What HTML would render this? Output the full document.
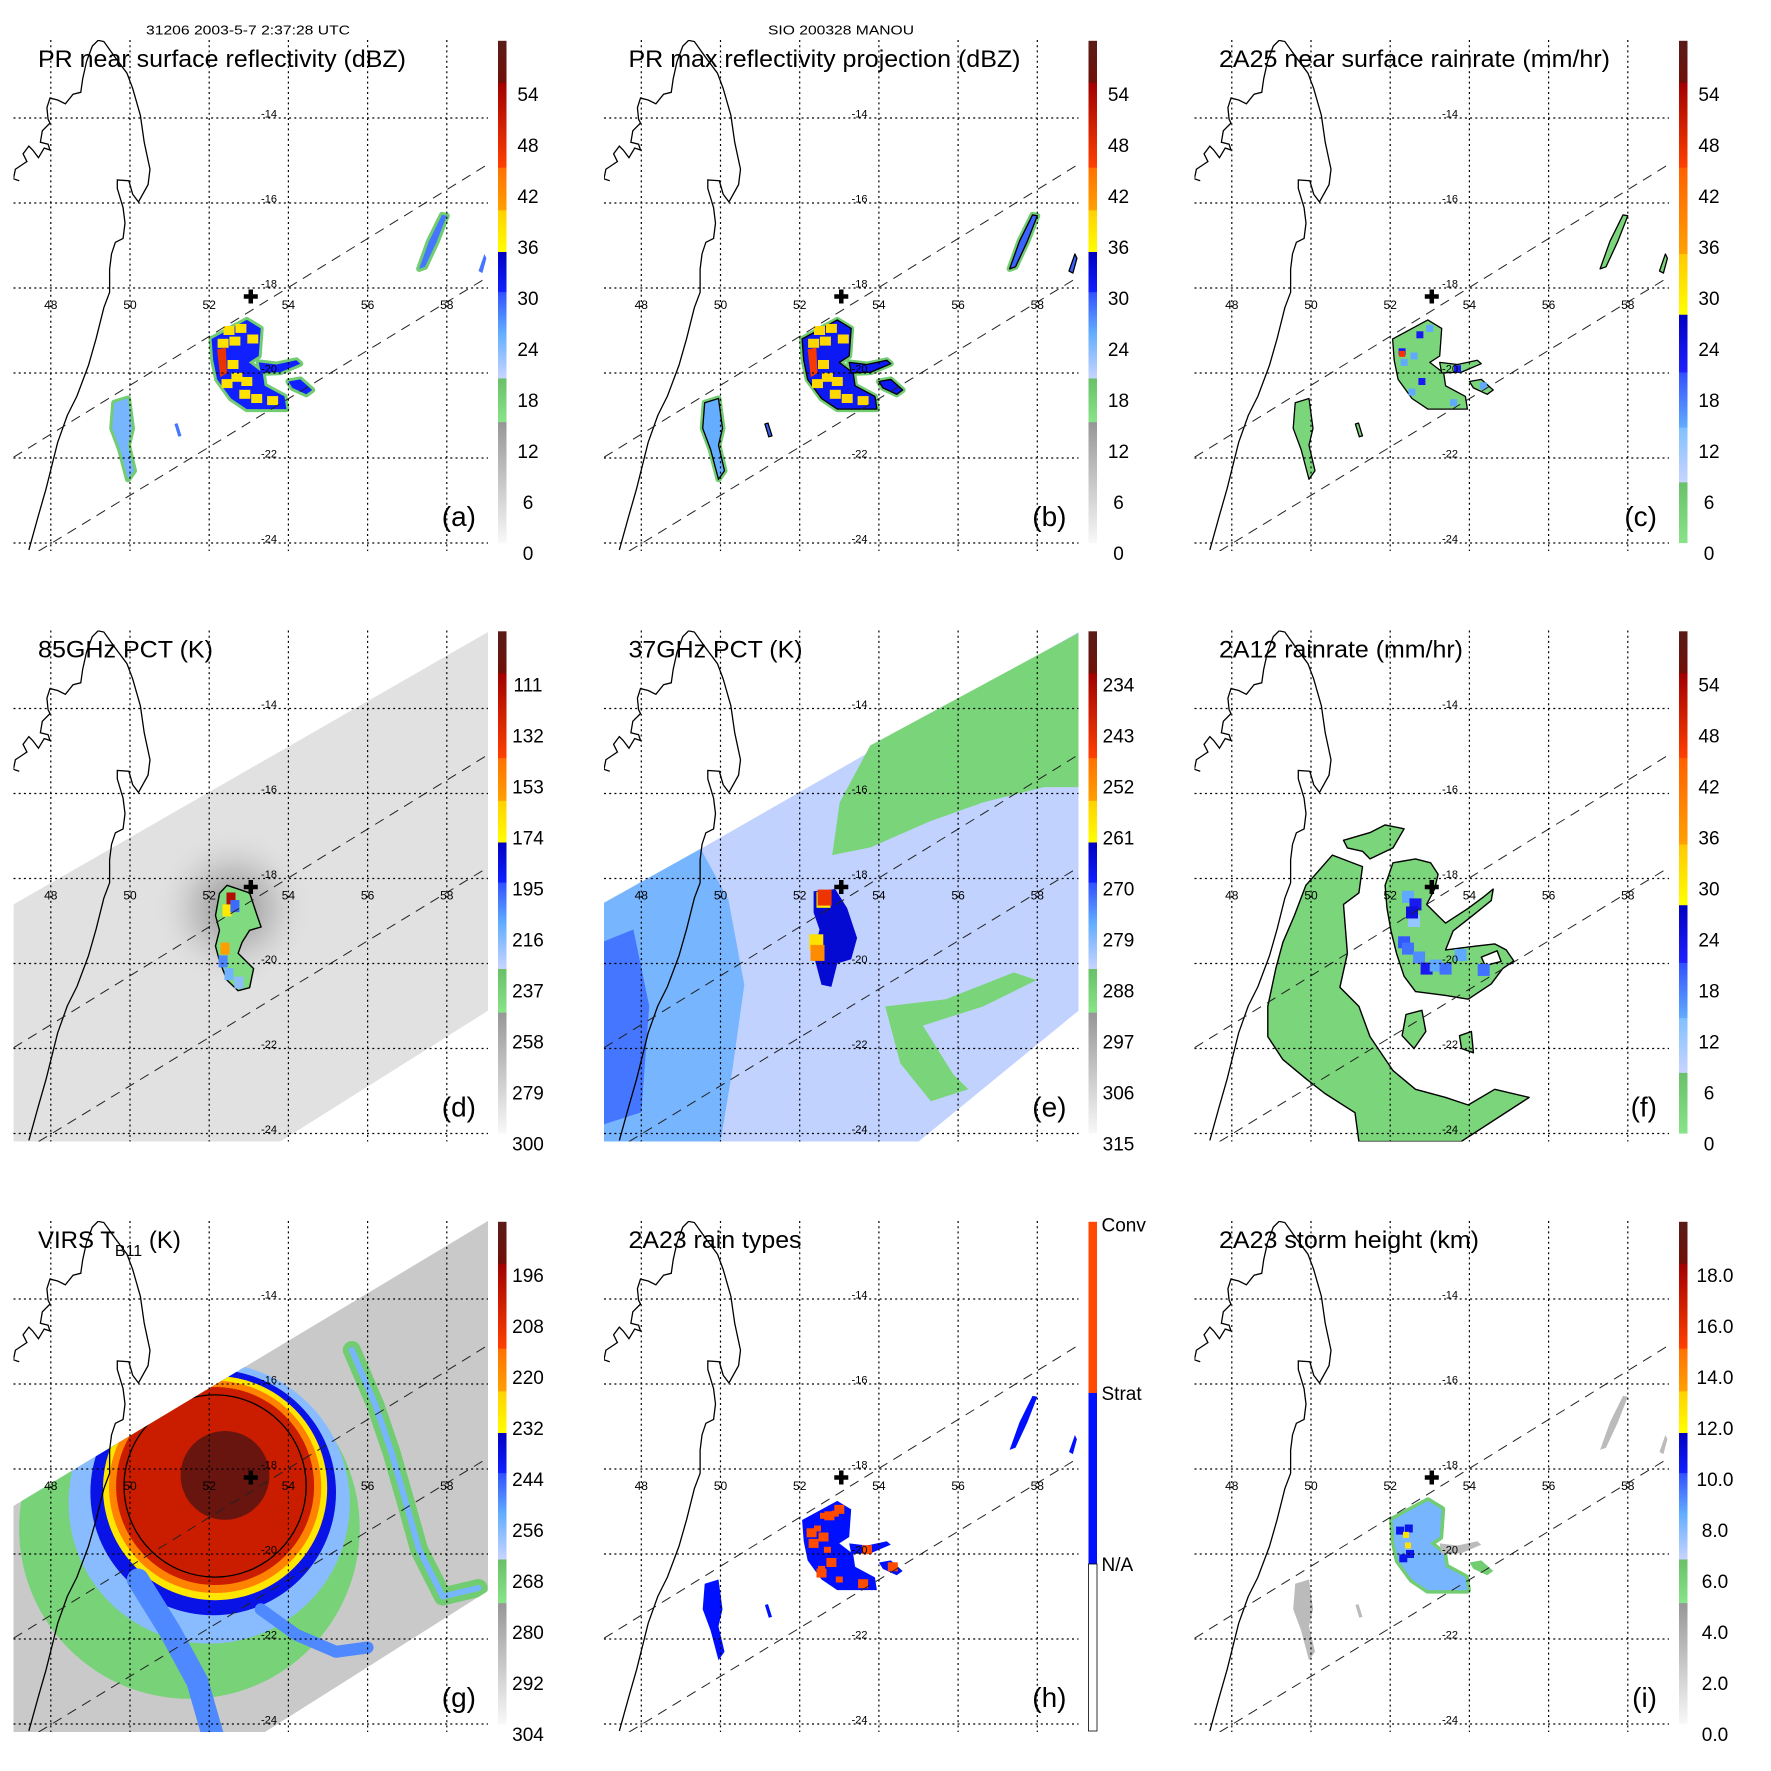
<!DOCTYPE html>
<html><head><meta charset="utf-8"><title>MANOU TRMM panels</title>
<style>
html,body{margin:0;padding:0;background:#fff;}
svg{display:block;font-family:"Liberation Sans",sans-serif;pointer-events:none;}
</style></head><body>
<svg id="fig" width="1771" height="1771" viewBox="0 0 1771 1771" xmlns="http://www.w3.org/2000/svg">
<defs>
<clipPath id="mapclip" clipPathUnits="userSpaceOnUse"><rect x="13.5" y="40" width="474.5" height="511"/></clipPath>
<radialGradient id="halo"><stop offset="0" stop-color="#7a7a7a" stop-opacity="0.85"/><stop offset="0.5" stop-color="#a8a8a8" stop-opacity="0.5"/><stop offset="1" stop-color="#e0e0e0" stop-opacity="0"/></radialGradient>
</defs>
<rect x="0" y="0" width="1771" height="1771" fill="#fff"/>
<text x="248" y="34.5" font-size="13" text-anchor="middle" textLength="204" lengthAdjust="spacingAndGlyphs">31206 2003-5-7 2:37:28 UTC</text>
<text x="841" y="34.5" font-size="13" text-anchor="middle" textLength="146" lengthAdjust="spacingAndGlyphs">SIO 200328 MANOU</text>
</svg>
<script>
// ---------- data ----------
const panelLetters=['a','b','c','d','e','f','g','h','i'];
const panelTitles=['PR near surface reflectivity (dBZ)','PR max reflectivity projection (dBZ)','2A25 near surface rainrate (mm/hr)','85GHz PCT (K)','37GHz PCT (K)','2A12 rainrate (mm/hr)','VIRS T','2A23 rain types','2A23 storm height (km)'];
const titleWidths=[368,392,391,175,174,244,0,173,260];
const lonTicks=[48,50,52,54,56,58];
const latTicks=[-14,-16,-18,-20,-22,-24];
const cbLabelsPR=['54','48','42','36','30','24','18','12','6','0'];
const cbLabels85=['111','132','153','174','195','216','237','258','279','300'];
const cbLabels37=['234','243','252','261','270','279','288','297','306','315'];
const cbLabelsVIRS=['196','208','220','232','244','256','268','280','292','304'];
const cbLabelsHt=['18.0','16.0','14.0','12.0','10.0','8.0','6.0','4.0','2.0','0.0'];
const cbLabelsType=['Conv','Strat','N/A'];
const crossLon=53.05, crossLat=-18.2;
const prSwathUpper=[[47.06,-21.98],[59.0,-15.11]];
const prSwathLower=[[47.69,-24.19],[59.04,-17.74]];
const prStorm=[[52.06,-19.2],[52.95,-18.75],[53.3,-18.95],[53.25,-19.6],[53.0,-19.75],[53.35,-20.0],[53.4,-20.3],[53.9,-20.55],[53.95,-20.85],[53.5,-20.85],[52.95,-20.85],[52.55,-20.6],[52.2,-20.15],[52.1,-19.7]];
const prArm1=[[53.25,-19.75],[53.7,-19.8],[54.2,-19.7],[54.3,-19.78],[53.8,-19.98],[53.3,-20.0]];
const prArm2=[[54.0,-20.2],[54.3,-20.15],[54.6,-20.4],[54.45,-20.5],[54.1,-20.35]];
const prLeft=[[49.6,-20.7],[49.95,-20.6],[50.05,-21.3],[49.95,-21.7],[50.1,-22.3],[49.95,-22.5],[49.75,-21.8],[49.55,-21.3]];
const prStreak=[[51.12,-21.2],[51.2,-21.18],[51.3,-21.48],[51.22,-21.5]];
const prNE=[[57.3,-17.55],[57.45,-17.5],[57.75,-16.9],[58.0,-16.3],[57.88,-16.28],[57.55,-16.9]];
const prNE2=[[58.8,-17.6],[58.95,-17.2],[59.0,-17.3],[58.9,-17.65]];
const prRedStreak=[[52.2,-19.45],[52.42,-19.4],[52.45,-20.0],[52.28,-20.1]];
const prYellowCells=[[52.5,-19.0],[52.8,-18.95],[52.35,-19.3],[52.6,-19.8],[52.9,-20.5],[52.45,-20.25],[53.2,-20.6],[52.7,-20.1],[53.1,-19.2],[52.65,-19.25],[52.95,-20.2],[53.6,-20.65]];
const prConvCells=[[52.3,-19.5],[52.35,-19.75],[52.6,-19.6],[52.8,-20.2],[52.55,-20.45],[53.0,-18.95],[53.7,-19.9],[54.35,-20.3],[53.6,-20.7],[52.75,-19.1]];
const prValuesA=[30,18,24,28,38,47];
const prValuesB=[31,18,25,29,39,46];
const prValuesC=[3,14,22];
const prValuesI=[8,6,3,10.5,12.6];
const pmSwath85=[[47.06,-18.61],[59.04,-12.2],[59.04,-21.11],[53.79,-24.19],[47.06,-24.19]];
const pmSwath37=[[47.06,-18.61],[59.04,-12.2],[59.04,-21.11],[55.0,-24.19],[47.06,-24.19]];
const stormD=[[52.45,-18.16],[53.02,-18.34],[53.21,-18.87],[53.31,-19.14],[53.02,-19.22],[52.83,-19.5],[52.73,-19.76],[53.12,-20.12],[53.02,-20.57],[52.73,-20.64],[52.45,-20.39],[52.26,-19.94],[52.16,-19.59],[52.26,-19.22],[52.16,-18.87],[52.26,-18.35]];
const dCellsLon=[52.55,52.45,52.4,52.35,52.5,52.65,52.75];
const dCellsLat=[-18.47,-18.75,-19.65,-19.95,-20.25,-18.65,-20.45];
const dCellsVal=[115,170,160,205,215,200,220];
const dValues=[288,245];
const eGreenNorth=[[53.78,-14.87],[53.01,-16.21],[52.82,-17.45],[53.78,-17.27],[55.3,-16.65],[56.64,-16.21],[58.17,-15.85],[59.09,-15.85],[59.09,-12.2]];
const eGreenSouth=[[54.16,-21.01],[55.69,-20.84],[57.41,-20.21],[57.98,-20.39],[56.64,-21.01],[55.11,-21.46],[55.88,-22.61],[56.26,-22.96],[55.31,-23.24],[54.54,-22.35]];
const eLeft=[[47.0,-18.6],[49.5,-17.3],[50.2,-18.5],[50.6,-20.5],[50.3,-22.5],[50.0,-24.2],[47.0,-24.2]];
const eLeftDark=[[47.0,-19.5],[47.8,-19.2],[48.2,-21.0],[48.0,-23.5],[47.0,-23.8]];
const eStorm=[[52.35,-18.3],[52.9,-18.25],[53.2,-18.7],[53.45,-19.4],[53.3,-19.9],[52.95,-20.0],[52.8,-20.55],[52.55,-20.5],[52.35,-19.8],[52.5,-19.2],[52.35,-18.8]];
const eSpotsLon=[52.6,52.63,52.42,52.45];
const eSpotsLat=[-18.5,-18.45,-19.5,-19.75];
const eSpotsVal=[260,245,258,252];
const eValues=[285,279,273,290,265];
const fWest=[[50.54,-17.45],[51.3,-17.72],[51.21,-18.34],[50.82,-18.61],[50.92,-19.76],[50.73,-20.56],[51.21,-21.01],[51.49,-21.72],[52.07,-22.52],[52.64,-22.96],[53.4,-23.15],[53.97,-23.33],[54.64,-22.96],[55.51,-23.15],[53.79,-24.19],[51.21,-24.19],[51.11,-23.51],[50.35,-23.06],[49.87,-22.71],[49.29,-22.26],[48.91,-21.72],[48.91,-21.01],[49.11,-20.12],[49.29,-19.5],[49.58,-18.87],[49.87,-18.16]];
const fStorm=[[52.07,-17.63],[52.64,-17.54],[53.02,-17.63],[53.21,-17.9],[53.12,-18.25],[52.92,-18.61],[53.21,-18.88],[53.4,-19.05],[53.97,-18.7],[54.36,-18.43],[54.6,-18.25],[54.55,-18.52],[54.07,-18.88],[53.59,-19.23],[53.4,-19.68],[54.17,-19.59],[54.64,-19.54],[54.93,-19.68],[55.12,-19.94],[54.84,-20.12],[54.55,-20.48],[53.97,-20.84],[53.4,-20.75],[52.64,-20.66],[52.35,-20.3],[52.16,-19.76],[52.02,-19.23],[51.92,-18.7],[51.87,-18.16]];
const fNorth=[[50.82,-17.1],[51.49,-16.92],[51.87,-16.74],[52.35,-16.83],[52.07,-17.28],[51.49,-17.54],[51.3,-17.36],[50.92,-17.28]];
const fSmall1=[[52.4,-21.2],[52.8,-21.1],[52.9,-21.6],[52.6,-22.0],[52.3,-21.7]];
const fSmall2=[[53.75,-21.7],[54.05,-21.6],[54.1,-22.1],[53.8,-22.0]];
const fHoles=[[54.3,-19.85],[54.7,-19.7],[54.8,-19.95],[54.4,-20.05]];
const fCellsLon=[52.45,52.64,52.35,52.45,52.73,52.92,53.15,53.4,54.36,53.78,52.6,52.55];
const fCellsLat=[-18.43,-18.61,-19.5,-19.65,-19.86,-20.12,-20.05,-20.12,-20.15,-19.8,-19.0,-18.8];
const fCellsVal=[14,22,20,18,16,22,14,18,18,14,12,24];
const fValues=[3];
const gSwath=[[47.05,-18.87],[59.04,-12.16],[59.04,-20.87],[53.41,-24.19],[47.05,-24.19]];
const gRingLon=[51.5,52.0,52.1,52.15,52.15,52.15];
const gRingLat=[-19.4,-18.8,-18.55,-18.45,-18.42,-18.4];
const gRingR=[4.3,3.55,3.1,2.83,2.68,2.5];
const gRingVal=[270,258,240,229,218,203];
const gCore=[52.4,-18.15,1.12,190];
const gContourR=2.3;
const gEastBand=[[55.6,-15.2],[56.2,-16.5],[56.6,-17.6],[57.0,-18.9],[57.3,-19.9],[57.9,-21.0],[58.8,-20.8]];
const gSouthBand=[[50.2,-20.6],[51.0,-21.8],[51.7,-23.0],[52.1,-24.3]];
const gSEBand=[[53.3,-21.3],[54.2,-21.9],[55.2,-22.3],[56.0,-22.2]];
const gValues=[290,290,268,256,250];
const hColors=['#ff4a00','#0010ff'];
// ---------- projection & helpers ----------
const LON0=48, X0=50.8, DXDEG=39.6, LAT0=-14, Y0=118, DYDEG=42.5;
const NS='http://www.w3.org/2000/svg';
const svg=document.getElementById('fig');
function px(lon){return X0+(lon-LON0)*DXDEG;}
function py(lat){return Y0+(LAT0-lat)*DYDEG;}
function pts(a){return a.map(p=>px(p[0]).toFixed(1)+','+py(p[1]).toFixed(1)).join(' ');}
function mk(tag,parent){const e=document.createElementNS(NS,tag);parent.appendChild(e);return e;}
function set(e,o){for(const k in o)e.setAttribute(k,o[k]);return e;}
function hex2(h){return [parseInt(h.substr(1,2),16),parseInt(h.substr(3,2),16),parseInt(h.substr(5,2),16)];}
function mix(a,b,t){const A=hex2(a),B=hex2(b);return 'rgb('+A.map((v,i)=>Math.round(v+(B[i]-v)*t)).join(',')+')';}
const schemeStd=[[0,0.241,'#f8f8f8','#969696'],[0.241,0.328,'#88e488','#68c068'],[0.328,0.42,'#c8d4ff','#60acff'],[0.42,0.5,'#60acff','#3050ff'],[0.5,0.58,'#1020ff','#0000c0'],[0.58,0.663,'#ffff00','#ffd000'],[0.663,0.748,'#ffa000','#ff7000'],[0.748,0.917,'#ff4000','#a00000'],[0.917,1,'#701008','#5a1c18']];
const schemeRain=[[0,0.121,'#88e488','#68c068'],[0.121,0.23,'#c8d4ff','#80c0ff'],[0.23,0.34,'#60acff','#3050ff'],[0.34,0.455,'#2020ff','#0000c0'],[0.455,0.576,'#ffff00','#ffc800'],[0.576,0.748,'#ffa000','#ff6000'],[0.748,0.917,'#ff4000','#a00000'],[0.917,1,'#701008','#5a1c18']];
function colorAt(s,f){f=Math.max(0,Math.min(0.9999,f));for(const b of s){if(f>=b[0]&&f<b[1])return mix(b[2],b[3],(f-b[0])/(b[1]-b[0]));}return s[s.length-1][3];}
const fracFns=[v=>v/60,v=>v/60,v=>v/60,v=>(300-v)/210,v=>(315-v)/90,v=>v/60,v=>(304-v)/120,v=>0,v=>v/20];
const schemes=[schemeStd,schemeStd,schemeRain,schemeStd,schemeStd,schemeRain,schemeStd,null,schemeStd];
let P=0;
function col(v){return colorAt(schemes[P],fracFns[P](v));}
function poly(parent,arr,fill,stroke,sw,name){const e=mk('polygon',parent);set(e,{points:pts(arr),fill:fill,stroke:stroke||'none','stroke-width':sw||0,'stroke-linejoin':'round'});

return e;}
function cell(parent,lon,lat,w,h,fill,name){const e=mk('rect',parent);set(e,{x:(px(lon)-w/2).toFixed(1),y:(py(lat)-h/2).toFixed(1),width:w,height:h,fill:fill});

return e;}
function line(parent,arr,stroke,sw,name){const e=mk('polyline',parent);set(e,{points:pts(arr),fill:'none',stroke:stroke,'stroke-width':sw,'stroke-linecap':'round','stroke-linejoin':'round'});

return e;}
function circ(parent,lon,lat,r,fill,stroke,name){const e=mk('circle',parent);set(e,{cx:px(lon).toFixed(1),cy:py(lat).toFixed(1),r:(r*DXDEG).toFixed(1),fill:fill,stroke:stroke||'none','stroke-width':1.3});

return e;}

function drawPR(g,vals,outline){
  const st=outline?'#000':'none', sw=outline?1.3:0;
  [prStorm,prArm1,prArm2,prLeft,prNE].forEach(a=>{poly(g,a,'none',col(vals[1]),6,'rain-fringe');});
  poly(g,prStorm,col(vals[0]),st,sw,'storm-echo');
  poly(g,prArm1,col(vals[0]),st,sw,'rainband-arm');
  poly(g,prArm2,col(vals[0]),st,sw,'rainband-arm');
  poly(g,prLeft,col(vals[2]),st,sw,'coastal-echo');
  poly(g,prStreak,col(vals[3]),st,sw,'small-echo');
  poly(g,prNE,col(vals[3]),st,sw,'northeast-echo');
  poly(g,prNE2,col(vals[3]),st,sw,'northeast-echo');
  prYellowCells.forEach(c=>cell(g,c[0],c[1],11,9,col(vals[4]),'high-echo-cell'));
  poly(g,prRedStreak,col(vals[5]),'none',0,'core-echo');
}
function drawC(g){
  const v=prValuesC;
  [prStorm,prArm1,prArm2,prLeft,prStreak,prNE,prNE2].forEach(a=>poly(g,a,col(v[0]),'#000',1.3,'rain-area'));
  prConvCells.forEach((c,i)=>cell(g,c[0],c[1],7,7,col(i%3?v[1]:v[2]),'rain-cell'));
  cell(g,52.3,-19.55,6,6,'#ff3000','heavy-rain-cell');
}
function drawH(g){
  [prStorm,prArm1,prArm2,prLeft,prStreak,prNE,prNE2].forEach(a=>poly(g,a,hColors[1],'none',0,'stratiform-area'));
  prConvCells.forEach(c=>cell(g,c[0],c[1],10,9,hColors[0],'convective-cell'));
  prYellowCells.slice(0,6).forEach(c=>cell(g,c[0]+0.1,c[1]-0.1,7,6,hColors[0],'convective-cell'));
}
function drawI(g){
  const v=prValuesI;
  poly(g,prStorm,'none',col(v[1]),7,'rain-fringe');
  poly(g,prStorm,col(v[0]),'none',0,'storm-height-area');
  poly(g,prArm1,col(v[2]),'none',0,'rainband-arm');
  poly(g,prArm2,col(v[1]),'none',0,'rainband-arm');
  poly(g,prLeft,col(v[2]),'none',0,'coastal-echo');
  poly(g,prStreak,col(v[2]),'none',0,'small-echo');
  poly(g,prNE,col(v[2]),'none',0,'northeast-echo');
  poly(g,prNE2,col(v[2]),'none',0,'northeast-echo');
  prRedStreak.forEach(c=>cell(g,c[0]+0.05,c[1],8,8,col(v[3]),'tall-cell'));
  cell(g,52.4,-19.55,6,6,col(v[4]),'tallest-cell');
  cell(g,52.45,-19.8,6,6,col(v[4]),'tallest-cell');
}
function drawD(g){
  poly(g,pmSwath85,col(dValues[0]),'none',0,'pmi-swath');
  const h=mk('circle',g);set(h,{cx:px(52.6).toFixed(1),cy:py(-18.7).toFixed(1),r:80,fill:'url(#halo)'});
  
  
  poly(g,stormD,col(dValues[1]),'#000',1.4,'ice-scattering-area');
  dCellsLon.forEach((lon,i)=>cell(g,lon,dCellsLat[i],9,12,col(dCellsVal[i]),'low-pct-cell'));
}
function drawE(g){
  poly(g,pmSwath37,col(eValues[0]),'none',0,'pmi-swath');
  poly(g,eLeft,col(eValues[1]),'none',0,'warm-land-region');
  poly(g,eLeftDark,col(eValues[2]),'none',0,'land-region');
  poly(g,eGreenNorth,col(eValues[3]),'none',0,'ocean-cold-region');
  poly(g,eGreenSouth,col(eValues[3]),'none',0,'ocean-cold-band');
  poly(g,eStorm,col(eValues[4]),'none',0,'emission-area');
  eSpotsLon.forEach((lon,i)=>cell(g,lon,eSpotsLat[i],14,16,col(eSpotsVal[i]),'scattering-cell'));
}
function drawF(g){
  const v=fValues[0];
  poly(g,fWest,col(v),'#000',1.4,'west-rain-area');
  poly(g,fStorm,col(v),'#000',1.4,'storm-rain-area');
  poly(g,fNorth,col(v),'#000',1.4,'north-rain-area');
  poly(g,fSmall1,col(v),'#000',1.4,'small-rain-area');
  poly(g,fSmall2,col(v),'#000',1.4,'small-rain-area');
  poly(g,fHoles,'#fff','#000',1.4,'rain-gap');
  fCellsLon.forEach((lon,i)=>cell(g,lon,fCellsLat[i],12,12,col(fCellsVal[i]),'rain-cell'));
}
function drawG(g){
  const cp=mk('clipPath',svg.querySelector('defs'));set(cp,{id:'swclip-g',clipPathUnits:'userSpaceOnUse'});
  const cpp=mk('polygon',cp);set(cpp,{points:pts(gSwath)});
  const gg=mk('g',g);gg.setAttribute('clip-path','url(#swclip-g)');
  
  
  poly(gg,gSwath,col(gValues[0]),'none',0,'virs-swath');
  line(gg,gEastBand,col(gValues[2]),18,'outer-rainband');
  line(gg,gEastBand,col(gValues[3]),6,'outer-rainband-core');
  gRingLon.forEach((lon,i)=>circ(gg,lon,gRingLat[i],gRingR[i],col(gRingVal[i]),'none','cloud-top-ring'));
  line(gg,gSouthBand,col(gValues[4]),22,'southern-band');
  line(gg,gSEBand,col(gValues[4]),12,'southeast-band');
  circ(gg,gCore[0],gCore[1],gCore[2],col(gCore[3]),'none','cold-core');
  circ(gg,gRingLon[5],gRingLat[5],gContourR,'none','#000','contour-210');
}

const coastPath='M50,470 L35,465 L40,440 L55,430 L70,420 L60,400 L75,380 L85,390 L100,410 L115,385 L130,390 L125,375 L105,370 L110,340 L130,320 L125,310 L122,280 L130,255 L150,260 L170,270 L190,245 L210,240 L215,205 L225,160 L240,120 L255,105 L270,108 L300,150 L330,190 L345,230 L365,300 L375,370 L390,440 L385,480 L360,525 L345,505 L335,470 L305,468 L305,490 L320,540 L325,580 L320,620 L300,630 L290,660 L285,700 L285,760 L270,800 L250,880 L230,950 L200,1030 L175,1080 L150,1150 L135,1210 L120,1270 L100,1340 L75,1430';
const cbLabelSets=[cbLabelsPR,cbLabelsPR,cbLabelsPR,cbLabels85,cbLabels37,cbLabelsPR,cbLabelsVIRS,null,cbLabelsHt];
const drawers=[g=>drawPR(g,prValuesA,false),g=>drawPR(g,prValuesB,true),drawC,drawD,drawE,drawF,drawG,drawH,drawI];

for(let k=0;k<9;k++){
  P=k;
  const L=panelLetters[k];
  const g=mk('g',svg);set(g,{transform:'translate('+((k%3)*590.5)+','+(Math.floor(k/3)*590.5)+')'});
  
  
  const dg=mk('g',g);dg.setAttribute('clip-path','url(#mapclip)');
  
  
  drawers[k](dg);
  const c=mk('path',dg);set(c,{d:coastPath,transform:'scale(0.3846)',fill:'none',stroke:'#000','stroke-width':1.3,'vector-effect':'non-scaling-stroke'});
  
  
  lonTicks.forEach(lon=>{const l=mk('line',g);set(l,{x1:px(lon),x2:px(lon),y1:40,y2:551,stroke:'#000','stroke-width':1.2,'stroke-dasharray':'2,3.2'});
    
    
    const t=mk('text',g);set(t,{x:px(lon),y:309,'font-size':12,'text-anchor':'middle'});t.textContent=String(lon);
    
    });
  latTicks.forEach(lat=>{const l=mk('line',g);set(l,{x1:13.5,x2:488,y1:py(lat),y2:py(lat),stroke:'#000','stroke-width':1.2,'stroke-dasharray':'2,3.2'});
    
    
    const t=mk('text',g);set(t,{x:269,y:py(lat)-0.5,'font-size':11,'text-anchor':'middle'});t.textContent=String(lat);
    
    });
  [prSwathUpper,prSwathLower].forEach(a=>{const l=mk('polyline',dg);set(l,{points:pts(a),fill:'none',stroke:'#222','stroke-width':1,'stroke-dasharray':'10,7'});
    
    });
  const cx=px(crossLon), cy=py(crossLat);
  const cr=mk('path',g);set(cr,{d:'M'+(cx-7)+','+cy+' H'+(cx+7)+' M'+cx+','+(cy-7)+' V'+(cy+7),stroke:'#000','stroke-width':4.5,fill:'none'});
  
  
  const tt=mk('text',g);set(tt,{x:38,y:67,'font-size':24});
  
  
  if(k===6){tt.textContent='VIRS T';const s=mk('tspan',tt);set(s,{dy:8,'font-size':16});s.textContent='B11';const s2=mk('tspan',tt);set(s2,{dy:-8});s2.textContent=' (K)';}
  else{tt.textContent=panelTitles[k];set(tt,{textLength:titleWidths[k],lengthAdjust:'spacingAndGlyphs'});}
  const lt=mk('text',g);set(lt,{x:476,y:526,'font-size':28,'text-anchor':'end'});lt.textContent='('+L+')';
  
  
  const cb=mk('g',g);
  
  
  const top=40.8,bot=542.7,H=bot-top;
  if(k===7){
    const segs=[[top,212,'#ff4a00'],[212,383,'#0010ff'],[383,550,'#ffffff']];
    segs.forEach(s=>{const r=mk('rect',cb);set(r,{x:498,y:s[0],width:8.5,height:s[1]-s[0],fill:s[2],stroke:s[2]==='#ffffff'?'#000':'none','stroke-width':0.8});
      
      });
    const ys=[43.5,212,383];
    cbLabelsType.forEach((s,i)=>{const t=mk('text',cb);set(t,{x:511,y:ys[i]+7,'font-size':19});t.textContent=s;
      
      });
  } else {
    const sch=schemes[k];
    sch.forEach((b,bi)=>{const gid='cb'+k+'_'+bi;const lg=mk('linearGradient',svg.querySelector('defs'));set(lg,{id:gid,x1:0,y1:1,x2:0,y2:0});
      const s1=mk('stop',lg);set(s1,{offset:0,'stop-color':b[2]});const s2=mk('stop',lg);set(s2,{offset:1,'stop-color':b[3]});
      const r=mk('rect',cb);set(r,{x:498,y:(bot-b[1]*H).toFixed(2),width:8.5,height:((b[1]-b[0])*H+0.4).toFixed(2),fill:'url(#'+gid+')'});
      
      });
    const labs=cbLabelSets[k];
    labs.forEach((s,i)=>{const y=94+i*51;const t=mk('text',cb);set(t,{x:k===8?534:528,y:y+7,'font-size':19,'text-anchor':'middle'});t.textContent=s;
      
      });
  }
}
</script>
</body></html>
